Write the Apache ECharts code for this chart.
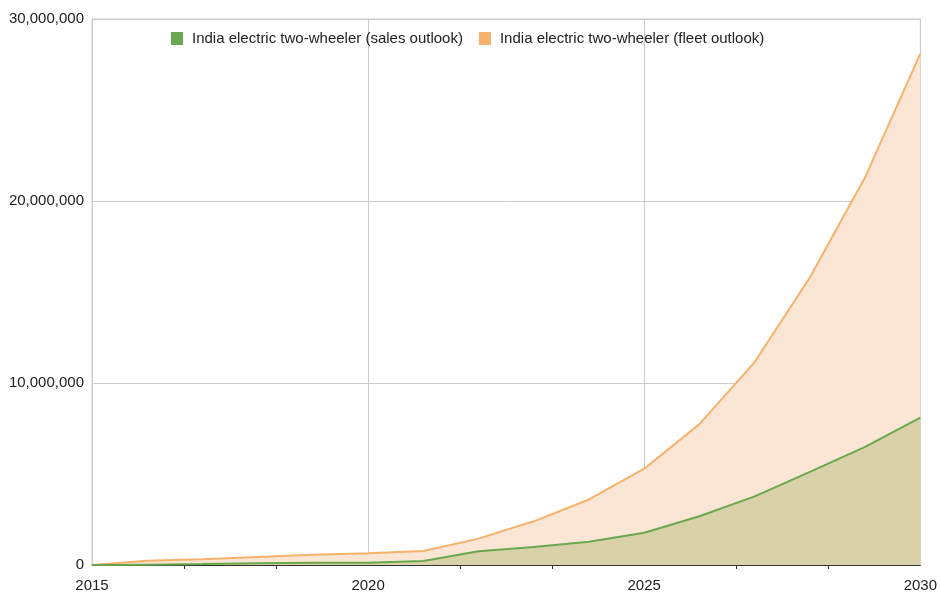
<!DOCTYPE html>
<html>
<head>
<meta charset="utf-8">
<script src="https://cdn.jsdelivr.net/npm/echarts@6/dist/echarts.min.js"></script>
<style>
html,body{margin:0;padding:0;background:#fff;}
#chart{width:940px;height:594px;}
</style>
</head>
<body>
<div id="chart"></div>
<script>
var years = [2015,2016,2017,2018,2019,2020,2021,2022,2023,2024,2025,2026,2027,2028,2029,2030];
var salesOutlook = [0,20000,50000,90000,130000,130000,220000,750000,990000,1280000,1770000,2680000,3770000,5120000,6490000,8100000];
var fleetOutlook = [0,240000,310000,440000,570000,640000,770000,1450000,2400000,3600000,5290000,7740000,11150000,15800000,21300000,28100000];
var seriesNames = ['India electric two-wheeler (sales outlook)','India electric two-wheeler (fleet outlook)'];
var xTicks = [2015,2020,2025,2030];

function pairs(vals){ return years.map(function(y,i){ return [y, vals[i]]; }); }

var chart = echarts.init(document.getElementById('chart'));
var font = 'Liberation Sans, Arial, sans-serif';
chart.setOption({
  animation:false,
  textStyle:{fontFamily:font},
  legend:{
    top:26, left:166,
    itemWidth:12, itemHeight:13, itemGap:16,
    icon:'rect',
    textStyle:{fontSize:15,color:'#222',fontFamily:font,padding:[0,0,0,4]},
    data:seriesNames
  },
  grid:{left:92,right:17,top:19,bottom:29,show:true,borderColor:'#ccc',borderWidth:1},
  xAxis:[{
    type:'value', min:2015, max:2030, interval:5,
    axisLine:{show:true,lineStyle:{color:'#333',width:1}},
    axisTick:{show:false},
    minorTick:{show:false},
    axisLabel:{fontSize:15,color:'#222',margin:13,fontFamily:font,
      formatter:function(v){ return xTicks.indexOf(v)>=0 ? String(v) : ''; },
      showMinLabel:true, showMaxLabel:true},
    splitLine:{show:true,lineStyle:{color:'#ccc',width:1}}
  },{
    type:'value', min:2015, max:2030, interval:5, position:'bottom', offset:-4,
    axisLine:{show:false},
    axisTick:{show:false},
    minorTick:{show:true,splitNumber:3,length:8,lineStyle:{color:'#333',width:1}},
    axisLabel:{show:false},
    splitLine:{show:false}
  }],
  yAxis:{
    type:'value', min:0, max:30000000, interval:10000000,
    axisLine:{show:false}, axisTick:{show:false},
    axisLabel:{fontSize:15,color:'#222',margin:8,fontFamily:font,
      formatter:function(v){ return v.toLocaleString('en-US'); }},
    splitLine:{lineStyle:{color:'#ccc',width:1}}
  },
  series:[{
    name:seriesNames[1], type:'line', data:pairs(fleetOutlook), showSymbol:false, symbol:'none',
    lineStyle:{color:'#f6b26b',width:2}, itemStyle:{color:'#f6b26b'},
    areaStyle:{color:'#fbe5d5',opacity:1}, z:2
  },{
    name:seriesNames[0], type:'line', data:pairs(salesOutlook), showSymbol:false, symbol:'none',
    lineStyle:{color:'#6aa84f',width:2}, itemStyle:{color:'#6aa84f'},
    areaStyle:{color:'#d9d2a8',opacity:1}, z:3
  }]
});
</script>
</body>
</html>
